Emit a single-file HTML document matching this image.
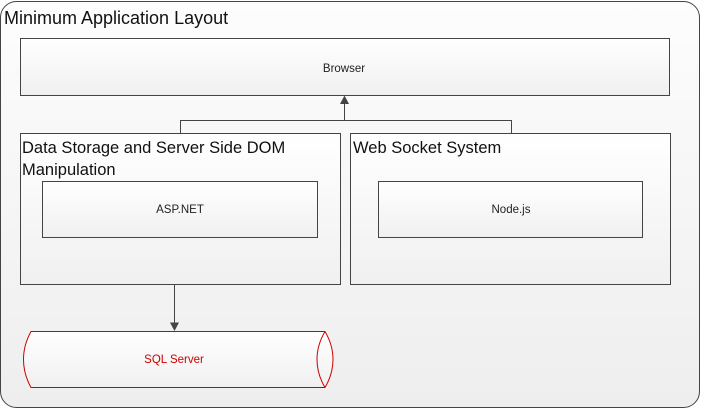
<!DOCTYPE html>
<html><head><meta charset="utf-8"><style>
html,body{margin:0;padding:0;background:#fff;}
svg{display:block;font-family:"Liberation Sans",sans-serif;}
</style></head><body>
<svg width="702" height="410" viewBox="0 0 702 410" xmlns="http://www.w3.org/2000/svg">
<defs>
<linearGradient id="g" x1="0" y1="0" x2="0" y2="1"><stop offset="0" stop-color="#fdfdfd"/><stop offset="1" stop-color="#eeeeee"/></linearGradient>
<linearGradient id="gb" x1="0" y1="0" x2="0" y2="1"><stop offset="0" stop-color="#ffffff"/><stop offset="1" stop-color="#f0f0f0"/></linearGradient>
</defs>
<rect x="0.5" y="1.5" width="699" height="406" rx="16" fill="url(#g)" stroke="#444" stroke-width="1"/>
<text x="4" y="24" font-size="18" fill="#111">Minimum Application Layout</text>
<g stroke="#444" stroke-width="1" fill="url(#gb)">
<rect x="20.5" y="38.5" width="649" height="57" />
<rect x="20.5" y="133.5" width="320" height="151"/>
<rect x="350.5" y="133.5" width="320" height="151"/>
<rect x="42.5" y="181.5" width="275" height="56"/>
<rect x="378.5" y="181.5" width="264" height="56"/>
</g>
<text x="344" y="72" font-size="11.5" text-anchor="middle" fill="#222">Browser</text>
<text x="22" y="153" font-size="16.5" fill="#111">Data Storage and Server Side DOM</text>
<text x="22" y="175" font-size="16.5" fill="#111">Manipulation</text>
<text x="353" y="153" font-size="16.5" fill="#111">Web Socket System</text>
<text x="180" y="213" font-size="11.5" text-anchor="middle" fill="#222">ASP.NET</text>
<text x="511" y="213" font-size="11.5" text-anchor="middle" fill="#222">Node.js</text>
<g stroke="#444" stroke-width="1" fill="none">
<polyline points="180.5,133 180.5,120.5 511.5,120.5 511.5,133"/>
<line x1="344.5" y1="120.5" x2="344.5" y2="102"/>
<line x1="174.5" y1="284" x2="174.5" y2="324"/>
</g>
<polygon points="344.5,95.5 340,104 349,104" fill="#444"/>
<polygon points="174.5,331 170,322.5 179,322.5" fill="#444"/>
<path d="M31,331.5 L325,331.5 Q333,345 333,359.5 Q333,374 325,387.5 L31,387.5 Q23.5,374 23.5,359.5 Q23.5,345 31,331.5 Z" fill="url(#gb)" stroke="#c00" stroke-width="1"/>
<path d="M325,331.5 Q317,345 317,359.5 Q317,374 325,387.5" fill="none" stroke="#c00" stroke-width="1"/>
<text x="174" y="363" font-size="11.5" text-anchor="middle" fill="#c00">SQL Server</text>
</svg>
</body></html>
